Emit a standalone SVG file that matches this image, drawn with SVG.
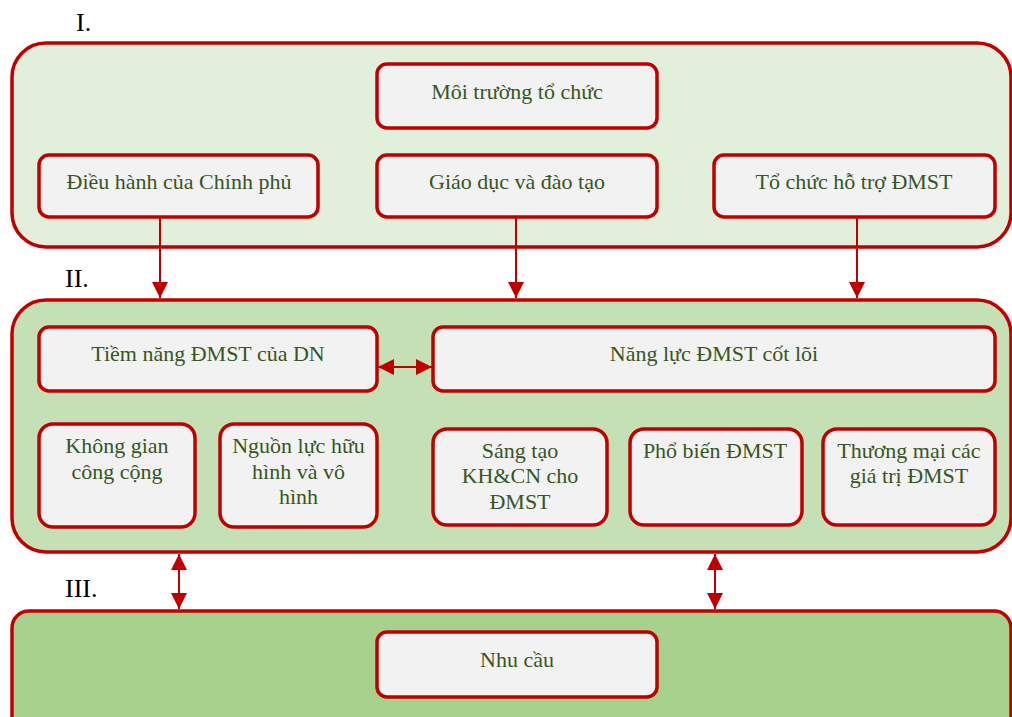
<svg xmlns="http://www.w3.org/2000/svg" width="1012" height="717" viewBox="0 0 1012 717">
<defs>
<style>
.cont{stroke:#c00000;stroke-width:3.5}
.c1{fill:#e2efda}
.c2{fill:#c5e0b4}
.c3{fill:#a9d18e}
.box{fill:#f2f2f2;stroke:#c00000;stroke-width:3.5}
.t{font-family:"Liberation Serif","Times New Roman",serif;font-size:22px;fill:#375623;text-anchor:middle}
.lab{font-family:"Liberation Serif","Times New Roman",serif;font-size:26px;fill:#000}
.conn{stroke:#c00000;stroke-width:2;fill:none}
</style>
<marker id="ah" markerUnits="userSpaceOnUse" markerWidth="16" markerHeight="16" viewBox="0 0 16 16" refX="16" refY="8" orient="auto-start-reverse">
<path d="M0,0 L16,8 L0,16 z" fill="#c00000"/>
</marker>
</defs>
<rect width="1012" height="717" fill="#ffffff"/>
<text class="lab" x="76" y="31">I.</text>
<text class="lab" x="65" y="287">II.</text>
<text class="lab" x="65" y="597">III.</text>
<g id="layer1"><rect class="cont c1" x="12" y="43" width="999" height="204" rx="34"/></g>
<g id="layer2"><rect class="cont c2" x="12" y="300" width="999" height="252" rx="34"/></g>
<g id="layer3"><rect class="cont c3" x="12" y="611" width="999" height="130" rx="17"/></g>
<g id="moi-truong"><rect class="box" x="377" y="64" width="280" height="64" rx="10"/><text class="t" x="517" y="99">Môi trường tổ chức</text></g>
<g id="dieu-hanh"><rect class="box" x="39" y="155" width="279" height="62" rx="10"/><text class="t" x="179" y="189">Điều hành của Chính phủ</text></g>
<g id="giao-duc"><rect class="box" x="377" y="155" width="280" height="62" rx="10"/><text class="t" x="517" y="189">Giáo dục và đào tạo</text></g>
<g id="to-chuc"><rect class="box" x="714" y="155" width="281" height="62" rx="10"/><text class="t" x="854" y="189">Tổ chức hỗ trợ ĐMST</text></g>
<g id="tiem-nang"><rect class="box" x="39" y="327" width="338" height="64" rx="10"/><text class="t" x="208" y="361">Tiềm năng ĐMST của DN</text></g>
<g id="nang-luc"><rect class="box" x="433" y="327" width="562" height="64" rx="10"/><text class="t" x="714" y="361">Năng lực ĐMST cốt lõi</text></g>
<g id="khong-gian"><rect class="box" x="39" y="424" width="156" height="103" rx="14"/><text class="t" x="117" y="453">Không gian</text><text class="t" x="117" y="479">công cộng</text></g>
<g id="nguon-luc"><rect class="box" x="220" y="424" width="157" height="103" rx="14"/><text class="t" x="298.5" y="453">Nguồn lực hữu</text><text class="t" x="298.5" y="479">hình và vô</text><text class="t" x="298.5" y="504">hình</text></g>
<g id="sang-tao"><rect class="box" x="433" y="429" width="174" height="96" rx="14"/><text class="t" x="520" y="458">Sáng tạo</text><text class="t" x="520" y="483">KH&amp;CN cho</text><text class="t" x="520" y="509">ĐMST</text></g>
<g id="pho-bien"><rect class="box" x="630" y="429" width="172" height="96" rx="14"/><text class="t" x="715" y="458">Phổ biến ĐMST</text></g>
<g id="thuong-mai"><rect class="box" x="823" y="429" width="172" height="96" rx="14"/><text class="t" x="909" y="458">Thương mại các</text><text class="t" x="909" y="483">giá trị ĐMST</text></g>
<g id="nhu-cau"><rect class="box" x="377" y="632" width="280" height="65" rx="10"/><text class="t" x="517" y="667">Nhu cầu</text></g>
<g id="connectors">
<line class="conn" x1="160" y1="217" x2="160" y2="298" marker-end="url(#ah)"/>
<line class="conn" x1="516" y1="217" x2="516" y2="298" marker-end="url(#ah)"/>
<line class="conn" x1="857" y1="217" x2="857" y2="298" marker-end="url(#ah)"/>
<line class="conn" x1="378" y1="367" x2="432" y2="367" marker-start="url(#ah)" marker-end="url(#ah)"/>
<line class="conn" x1="179" y1="554" x2="179" y2="609" marker-start="url(#ah)" marker-end="url(#ah)"/>
<line class="conn" x1="715" y1="554" x2="715" y2="609" marker-start="url(#ah)" marker-end="url(#ah)"/>
</g>
</svg>
